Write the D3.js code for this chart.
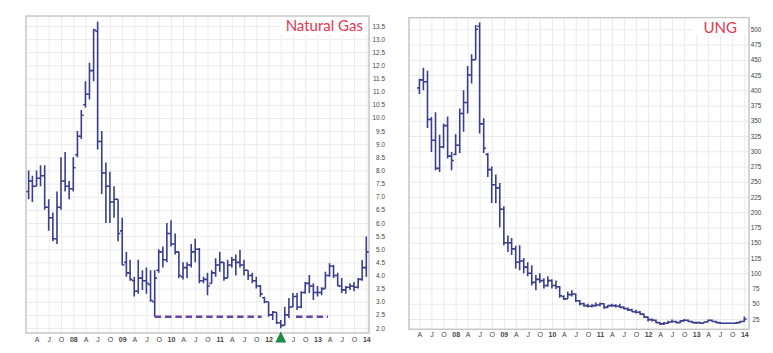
<!DOCTYPE html>
<html lang="en">
<head>
<meta charset="UTF-8">
<title>Natural Gas and UNG monthly bars</title>
<script src="https://cdn.jsdelivr.net/npm/d3@7"></script>
<style>
  body { margin: 0; background: #fff; }
  svg { display: block; font-family: "Liberation Sans", Arial, sans-serif; }
  .grid line { stroke: #ebebeb; stroke-width: 1; }
  .grid .domain { display: none; }
  .frame { fill: none; stroke: #c6c6c6; stroke-width: 1.5; }
  .bar { stroke: #3b3e8d; stroke-width: 1.6; fill: none; }
  .ylab text { font-size: 6.4px; fill: #444; }
  .ylab .domain { display: none; }
  .xlab text { font-size: 7px; fill: #444; }
  .xlab .domain { display: none; }
  .title { font-family: Lato, "Open Sans", sans-serif; font-size: 15px; fill: #e5354d; }
</style>
</head>
<body>
<svg width="773" height="353"></svg>
<script>
  // monthly bars: [open, high, low, close]
  const ngFirstMonth = "2007-02";
  const ngBars = [
    // 2007 Feb..Dec
    [7.2, 8.0, 6.9, 7.6], [7.6, 7.8, 6.8, 7.4], [7.4, 8.0, 7.4, 7.7], [7.7, 8.2, 7.4, 7.8],
    [7.8, 8.2, 6.5, 6.6], [6.6, 6.9, 5.7, 6.2], [6.2, 6.4, 5.3, 5.4], [5.4, 7.2, 5.2, 6.6],
    [6.6, 8.5, 6.5, 7.6], [7.6, 8.7, 7.2, 7.4], [7.4, 7.6, 6.9, 7.3],
    // 2008
    [7.3, 8.5, 7.2, 8.1], [8.6, 9.5, 8.5, 9.3], [9.3, 10.3, 9.2, 10.1], [10.5, 11.4, 10.4, 10.9],
    [10.9, 12.1, 10.7, 11.8], [11.8, 13.4, 11.4, 13.35], [13.3, 13.66, 8.8, 9.1], [9.1, 9.5, 7.1, 7.9],
    [7.9, 8.3, 6.0, 7.4], [7.4, 7.95, 6.0, 6.8], [6.8, 7.4, 6.2, 6.9], [6.9, 6.9, 5.3, 5.6],
    // 2009
    [5.7, 6.2, 4.4, 4.4], [4.5, 4.9, 3.95, 4.1], [4.1, 4.6, 3.8, 3.85], [3.8, 3.95, 3.2, 3.4],
    [3.4, 4.6, 3.3, 3.9], [3.9, 4.2, 3.45, 3.8], [3.8, 4.3, 3.3, 3.7], [3.65, 4.2, 3.0, 3.05],
    [3.0, 4.2, 2.43, 3.9], [4.2, 5.0, 4.1, 4.9], [4.9, 5.1, 4.3, 4.6], [4.6, 6.0, 4.5, 5.6],
    // 2010
    [5.6, 6.1, 5.1, 5.2], [5.2, 5.6, 4.8, 4.9], [4.9, 4.9, 3.9, 4.0], [3.95, 4.5, 3.85, 4.3],
    [4.3, 4.5, 3.9, 4.4], [4.4, 5.2, 4.3, 4.9], [4.9, 5.4, 4.5, 5.0], [5.0, 5.05, 3.7, 3.8],
    [3.8, 3.95, 3.7, 3.85], [3.85, 4.1, 3.25, 3.6], [3.7, 4.2, 3.7, 4.1], [4.1, 4.66, 3.95, 4.4],
    // 2011
    [4.4, 4.9, 4.14, 4.5], [4.5, 4.5, 3.8, 3.9], [3.9, 4.6, 3.9, 4.4], [4.4, 4.7, 4.3, 4.6],
    [4.6, 4.8, 4.0, 4.5], [4.5, 4.97, 4.3, 4.4], [4.4, 4.6, 4.0, 4.2], [4.2, 4.2, 3.83, 4.0],
    [4.0, 4.1, 3.7, 3.8], [3.8, 3.95, 3.5, 3.6], [3.6, 3.64, 3.19, 3.3], [3.15, 3.19, 2.94, 3.0],
    // 2012
    [3.0, 3.0, 2.43, 2.5], [2.5, 2.65, 2.3, 2.6], [2.6, 2.6, 2.15, 2.2], [2.2, 2.3, 1.99, 2.1],
    [2.1, 2.81, 2.1, 2.5], [2.5, 3.14, 2.38, 2.8], [2.8, 3.33, 2.8, 3.2], [3.2, 3.33, 2.69, 2.8],
    [2.8, 3.4, 2.75, 3.35], [3.35, 3.75, 3.3, 3.7], [3.7, 4.02, 3.33, 3.6], [3.6, 3.7, 3.07, 3.35],
    // 2013
    [3.35, 3.6, 3.2, 3.35], [3.35, 3.55, 3.25, 3.5], [3.5, 4.14, 3.5, 4.0], [4.0, 4.47, 3.95, 4.35],
    [4.35, 4.4, 3.9, 4.0], [4.0, 4.1, 3.6, 3.6], [3.6, 3.9, 3.33, 3.45], [3.45, 3.6, 3.3, 3.55],
    [3.55, 3.7, 3.45, 3.6], [3.6, 3.75, 3.4, 3.55], [3.55, 3.9, 3.5, 3.85], [3.85, 4.59, 3.8, 4.3],
    // 2014 Jan
    [4.3, 5.48, 3.95, 4.9]
  ];

  const ungFirstMonth = "2007-04";
  const ungBars = [
    // 2007 Apr..Dec
    [404, 419, 394, 417], [417, 437, 400, 414], [414, 432, 338, 352], [352, 356, 299, 318],
    [318, 364, 269, 272], [272, 327, 266, 307], [307, 345, 305, 342], [342, 357, 288, 292],
    [292, 299, 269, 285],
    // 2008
    [295, 328, 294, 310], [310, 370, 297, 362], [362, 400, 332, 380], [380, 440, 362, 425],
    [425, 459, 411, 450], [450, 507, 450, 500], [505, 511, 329, 345], [345, 354, 297, 305],
    [295, 297, 258, 270], [270, 275, 215, 245], [245, 262, 215, 240], [240, 248, 175, 205],
    // 2009
    [205, 210, 146, 150], [150, 162, 135, 150], [150, 158, 130, 140], [140, 145, 108, 118],
    [118, 146, 105, 120], [120, 125, 100, 110], [110, 118, 95, 100], [100, 113, 80, 85],
    [85, 97, 72, 90], [90, 100, 84, 88], [88, 92, 75, 80], [80, 95, 78, 88],
    // 2010
    [88, 90, 75, 80], [80, 88, 74, 78], [78, 79, 60, 63], [62, 64, 56, 58],
    [58, 70, 58, 65], [65, 72, 62, 66], [66, 67, 53, 55], [55, 56, 47, 50],
    [50, 52, 45, 47], [47, 50, 44, 46], [46, 49, 44, 47], [47, 52, 45, 48],
    // 2011
    [48, 52, 46, 50], [50, 51, 42, 44], [44, 48, 43, 47], [47, 50, 45, 47],
    [47, 49, 44, 46], [46, 50, 43, 44], [44, 46, 41, 42], [42, 44, 38, 40],
    [40, 42, 36, 37], [37, 40, 34, 36], [36, 38, 32, 33], [33, 34, 27, 28],
    // 2012
    [28, 29, 21, 24], [24, 26, 21, 23], [23, 24, 18, 19], [19, 20, 15, 17],
    [17, 20, 15, 18], [18, 22, 17, 20], [20, 24, 19, 21], [21, 22, 18, 19],
    [19, 23, 18, 22], [22, 25, 21, 23], [23, 24, 20, 21], [21, 22, 18, 19],
    // 2013
    [19, 20, 17, 19], [19, 20, 17, 18], [18, 21, 18, 20], [20, 24, 20, 23],
    [23, 24, 20, 21], [21, 22, 18, 19], [19, 20, 17, 18], [18, 19, 17, 18],
    [18, 19, 17, 18], [18, 19, 17, 18], [18, 20, 17, 19], [19, 22, 18, 21],
    // 2014 Jan
    [21, 29, 20, 25]
  ];

  const ngPriceTicks = [2.0, 2.5, 3.0, 3.5, 4.0, 4.5, 5.0, 5.5, 6.0, 6.5, 7.0, 7.5,
                        8.0, 8.5, 9.0, 9.5, 10.0, 10.5, 11.0, 11.5, 12.0, 12.5, 13.0, 13.5];
  const ungPriceTicks = [25, 50, 75, 100, 125, 150, 175, 200, 225, 250,
                         275, 300, 325, 350, 375, 400, 425, 450, 475, 500];
  const monthLetters = { 3: "A", 6: "J", 9: "O" };

  // support line and marked low (natural gas panel)
  const supportLevel = 2.43;
  const supportSpans = [["2009-09-01", "2011-11-10"], ["2012-07-24", "2013-03-21"]];
  const bottomMonth = "2012-04";

  const parseMonth = d3.timeParse("%Y-%m");
  const parseDay = d3.timeParse("%Y-%m-%d");
  const svg = d3.select("svg");

  // quarter ticks Apr 2007 .. Jan 2014
  const quarterTicks = d3.timeMonth.every(3).range(new Date(2007, 3, 1), new Date(2014, 0, 2));

  function quarterLabel(d) {
    const m = d.getMonth();
    return m === 0 ? d3.timeFormat("%y")(d) : monthLetters[m];
  }

  function drawPanel(p) {
    const [fx0, fy0, fx1, fy1] = p.frame;
    const x = d3.scaleTime()
      .domain([new Date(2007, 0, 1), new Date(2014, 0, 1)])
      .range(p.xRange);
    const y = d3.scaleLinear().domain(p.yDomain).range(p.yRange);
    const g = svg.append("g");

    // grid
    g.append("g").attr("class", "grid")
      .attr("transform", `translate(0,${fy1})`)
      .call(d3.axisBottom(x).tickValues(quarterTicks).tickSize(-(fy1 - fy0)).tickFormat(""));
    g.append("g").attr("class", "grid")
      .attr("transform", `translate(${fx0},0)`)
      .call(d3.axisLeft(y).tickValues(p.yTicks).tickSize(-(fx1 - fx0)).tickFormat(""));

    g.append("rect").attr("class", "frame")
      .attr("x", fx0).attr("y", fy0)
      .attr("width", fx1 - fx0).attr("height", fy1 - fy0);

    // title box
    g.append("rect")
      .attr("x", p.titleBox[0]).attr("y", p.titleBox[1])
      .attr("width", p.titleBox[2]).attr("height", p.titleBox[3])
      .attr("fill", "#fff");
    g.append("text").attr("class", "title")
      .attr("x", p.titlePos[0]).attr("y", p.titlePos[1])
      .attr("text-anchor", "end")
      .text(p.title);

    // y labels on the right
    const yl = g.append("g").attr("class", "ylab")
      .attr("transform", `translate(${fx1},0)`)
      .call(d3.axisRight(y).tickValues(p.yTicks).tickSize(0).tickFormat(p.yFormat));
    yl.selectAll("text").attr("x", p.yLabelDx).attr("text-anchor", p.yAnchor);

    // x labels
    const xl = g.append("g").attr("class", "xlab")
      .attr("transform", `translate(0,${p.xLabelY})`)
      .call(d3.axisBottom(x).tickValues(quarterTicks).tickSize(0).tickPadding(0).tickFormat(quarterLabel));
    xl.selectAll("text")
      .attr("dy", "0.35em")
      .attr("font-weight", d => d.getMonth() === 0 ? "bold" : null)
      .attr("fill", d => d.getMonth() === 0 ? "#222" : null)
      .attr("font-size", p.xFont);
    if (p.hideLabel) {
      xl.selectAll(".tick").filter(d => +d === +p.hideLabel).remove();
    }

    // OHLC bars
    const start = parseMonth(p.first);
    const rows = p.bars.map((b, i) => ({ date: d3.timeMonth.offset(start, i), o: b[0], h: b[1], l: b[2], c: b[3] }));
    const t = 2.3;
    g.append("g").selectAll("path").data(rows).join("path")
      .attr("class", "bar")
      .attr("d", d => {
        const cx = x(d.date);
        return `M${cx},${y(d.h)}V${y(d.l)}M${cx - t},${y(d.o)}H${cx}M${cx},${y(d.c)}H${cx + t}`;
      });

    return { x, y, g };
  }

  const ng = drawPanel({
    frame: [26, 16, 369, 333],
    xRange: [24.5, 366.3],
    yDomain: [2, 13.5], yRange: [328, 26],
    yTicks: ngPriceTicks, yFormat: d3.format(".1f"),
    yLabelDx: 16, yAnchor: "end",
    xLabelY: 339.5, xFont: "7px",
    title: "Natural Gas", titlePos: [363, 31], titleBox: [280, 17, 88, 18],
    first: ngFirstMonth, bars: ngBars,
    hideLabel: parseMonth(bottomMonth)
  });

  drawPanel({
    frame: [409, 17.7, 749, 329.3],
    xRange: [407.6, 744.3],
    yDomain: [25, 500], yRange: [319, 29.3],
    yTicks: ungPriceTicks, yFormat: d3.format("d"),
    yLabelDx: 7, yAnchor: "middle",
    xLabelY: 334.5, xFont: "6.8px",
    title: "UNG", titlePos: [737, 32.5], titleBox: [692, 18.5, 56, 15.5],
    first: ungFirstMonth, bars: ungBars
  });

  // dashed support line
  ng.g.append("g").selectAll("line").data(supportSpans).join("line")
    .attr("x1", d => ng.x(parseDay(d[0])))
    .attr("x2", d => ng.x(parseDay(d[1])))
    .attr("y1", ng.y(supportLevel)).attr("y2", ng.y(supportLevel))
    .attr("stroke", "#6a45a5").attr("stroke-width", 2.4)
    .attr("stroke-dasharray", "6.5,3.8");

  // green marker under the low
  const bx = ng.x(parseMonth(bottomMonth));
  ng.g.append("path")
    .attr("d", `M${bx - 5.5},342.5L${bx + 5.5},342.5L${bx},331.5Z`)
    .attr("fill", "#1f8a44");
</script>
</body>
</html>
